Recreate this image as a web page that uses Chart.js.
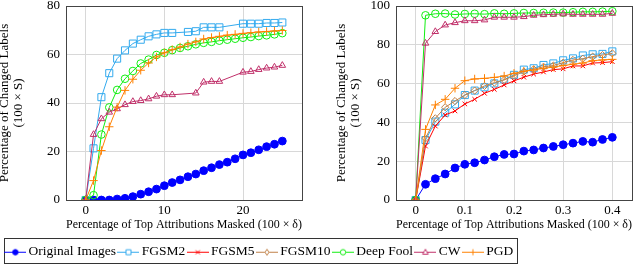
<!DOCTYPE html>
<html><head><meta charset="utf-8">
<script src="https://cdn.jsdelivr.net/npm/chart.js@4/dist/chart.umd.min.js"></script>
<style>
html,body{margin:0;padding:0;background:#fff;width:640px;height:265px;overflow:hidden;position:relative}
canvas{position:absolute}
#legendBox{position:absolute;left:4px;top:238px;width:512px;height:24px;border:1px solid #333;}
</style></head><body>
<div id="legendBox"></div>
<canvas id="left" width="318" height="236" style="left:0;top:0"></canvas>
<canvas id="right" width="320" height="236" style="left:320px;top:0"></canvas>
<canvas id="legend" width="560" height="80" style="left:-19px;top:238px"></canvas>
<script>
// ---------- data ----------
const seriesNames = ['Original Images','FGSM2','FGSM5','FGSM10','Deep Fool','CW','PGD'];

const leftX = [0,1,2,3,4,5,6,7,8,9,10,11,12,13,14,15,16,17,18,19,20,21,22,23,24,25];
const leftOriginal = [0,0,0,0,0.4,0.7,1.4,2.4,3.4,4.5,5.9,7.2,8.3,9.6,10.7,12.1,13.3,14.6,15.6,17.0,18.6,19.5,20.7,22.0,23.0,24.3];
const leftFGSM2 = [0,21.3,42.4,52.3,58.3,61.7,64.5,66.1,67.5,68.3,68.9,68.9,null,69.3,69.6,71.2,71.2,71.2,null,null,72.7,72.7,72.7,73.0,73.0,73.2];
const leftDeepFool = [0,2,27,38.2,45.4,50,53.2,56.3,57.9,59.8,60.7,61.8,62.7,63.4,64.2,64.8,65.2,65.7,66.1,66.5,66.9,67.2,67.6,67.9,68.3,68.8];
const leftCW = [0,27,33.5,36.2,37.6,39.3,40.6,41,41.7,42.8,43.4,43.4,null,null,44.1,48.6,48.9,48.9,null,null,52.7,53,53.8,54.4,54.8,55.5];
const leftPGD = [0,8,20.4,30.2,38.3,45.2,49.8,53.5,56.5,59,60.7,62,63.1,64.3,65.2,66.4,67,67.5,68,68.3,68.7,69,69.3,69.5,69.7,69.9];
const leftTicksX = [0,10,20];
const leftTicksY = [0,20,40,60,80];

const rightX = [0,0.02,0.04,0.06,0.08,0.10,0.12,0.14,0.16,0.18,0.20,0.22,0.24,0.26,0.28,0.30,0.32,0.34,0.36,0.38,0.40];
const rightOriginal = [0,8.1,11,13.4,16.5,18.4,19.2,20.6,22.3,23.5,23.7,25.2,25.8,26.8,27.6,28.5,29.3,30.2,29.8,31.2,32.3];
const rightFGSM2 = [0,30.9,40.4,45,49.3,54.1,56.4,58.1,60.1,62.1,64.5,67.2,67.9,69.6,70.4,72,73,74.5,75.1,75.3,76.6];
const rightFGSM5 = [0,27.8,38.1,43.8,45.9,49.5,51.9,55,57,59.3,61.4,63.3,64.9,66,67.2,67.6,69.1,69.1,70.6,70.8,71.3];
const rightFGSM10 = [0,31.8,42.1,47.8,51,54.1,56.4,58.8,60.5,61.9,64,66.2,67.4,68.7,69.3,70.8,72.2,72.8,73.9,74.7,75.6];
const rightDeepFool = [0,95.2,96,96.1,95.6,95.9,96,95.8,96.2,96,96.2,96.4,96.4,96.5,96.6,96.6,96.8,97,97,97.1,97.3];
const rightCW = [0,80.8,86.8,90.2,91.4,92.4,92.4,92.8,94.2,94.2,94.2,94.5,95.2,95.5,95.7,95.9,95.7,95.7,95.7,95.7,96.2];
const rightPGD = [0,36.4,49,51.9,57.6,61.5,62.4,62.7,63.2,63.9,65.3,66.4,67,67.9,68.5,69.3,70,70.6,71.8,72.2,72.5];
const rightTicksX = [0,0.1,0.2,0.3,0.4];
const rightTicksY = [0,20,40,60,80,100];

// ---------- styles ----------
const FONT = "'Liberation Serif', 'Times New Roman', serif";
const styles = {
  'Original Images': {color:'#0000ff', point:'circle', r:3.9, fill:'#0000ff'},
  'FGSM2':           {color:'#33aaee', point:'rect', r:5, fill:'rgba(255,255,255,0)'},
  'FGSM5':           {color:'#ff0000', point:'crossRot', r:3.2, fill:'rgba(255,255,255,0)'},
  'FGSM10':          {color:'#c08048', point:'rectRot', r:3.6, fill:'rgba(255,255,255,0)'},
  'Deep Fool':       {color:'#11ee11', point:'circle', r:3.8, fill:'rgba(255,255,255,0)'},
  'CW':              {color:'#c0306a', point:'triangle', r:3.8, fill:'rgba(255,255,255,0)'},
  'PGD':             {color:'#ff8000', point:'cross', r:4.2, fill:'rgba(255,255,255,0)'}
};

function makeDataset(name, xs, ys, idx) {
  const s = styles[name];
  return {
    label: name,
    data: xs.map((x, i) => ({x: x, y: ys[i]})),
    borderColor: s.color,
    backgroundColor: s.fill,
    pointBorderColor: s.color,
    pointBackgroundColor: s.fill,
    pointStyle: s.point,
    pointRadius: s.r,
    pointBorderWidth: 1,
    borderWidth: 1,
    tension: 0,
    spanGaps: true,
    order: 10 - idx
  };
}

const boxPlugin = {
  id: 'plotBox',
  afterDraw(chart) {
    const a = chart.chartArea, ctx = chart.ctx;
    ctx.save();
    ctx.strokeStyle = '#444';
    ctx.lineWidth = 1;
    ctx.strokeRect(Math.round(a.left) + 0.5, Math.round(a.top) + 0.5,
                   Math.round(a.right - a.left), Math.round(a.bottom - a.top));
    ctx.restore();
  }
};

function makeOptions(cfg) {
  return {
    responsive: false,
    animation: false,
    layout: {padding: {top: 6, right: cfg.padRight, left: 0, bottom: 0}},
    plugins: {legend: {display: false}, tooltip: {enabled: false}},
    scales: {
      x: {
        type: 'linear', min: cfg.xmin, max: cfg.xmax,
        afterBuildTicks: s => { s.ticks = cfg.ticksX.map(v => ({value: v})); },
        afterFit: s => { s.height = 36; s.paddingLeft = 0; s.paddingRight = 0; },
        grid: {color: '#d8d8d8', lineWidth: 1, drawTicks: false},
        border: {display: false},
        ticks: {color: '#000', padding: 3, font: {family: FONT, size: 13}, maxRotation: 0,
                callback: v => String(v)},
        title: {display: true, text: 'Percentage of Top Attributions Masked (100 × δ)',
                color: '#000', font: {family: FONT, size: 13, lineHeight: '14px'},
                padding: {top: 0, bottom: 4}}
      },
      y: {
        type: 'linear', min: cfg.ymin, max: cfg.ymax,
        afterBuildTicks: s => { s.ticks = cfg.ticksY.map(v => ({value: v})); },
        afterFit: s => { s.width = cfg.yWidth; s.paddingTop = 0; s.paddingBottom = 0; },
        grid: {color: '#d8d8d8', lineWidth: 1, drawTicks: false},
        border: {display: false},
        ticks: {color: '#000', padding: 6, font: {family: FONT, size: 13}},
        title: {display: true, text: ['Percentage of Changed Labels', '(100 × S)'],
                color: '#000', font: {family: FONT, size: 13, lineHeight: '14px'},
                padding: {top: cfg.titlePad, bottom: 0}}
      }
    }
  };
}

new Chart(document.getElementById('left'), {
  type: 'line',
  data: {datasets: [
    makeDataset('Original Images', leftX, leftOriginal, 0),
    makeDataset('FGSM2', leftX, leftFGSM2, 1),
    makeDataset('Deep Fool', leftX, leftDeepFool, 4),
    makeDataset('CW', leftX, leftCW, 5),
    makeDataset('PGD', leftX, leftPGD, 6)
  ]},
  options: makeOptions({xmin: -2.5, xmax: 27.5, ymin: 0, ymax: 80, ticksX: leftTicksX, ticksY: leftTicksY,
                        padRight: 16, yWidth: 66, titlePad: -2}),
  plugins: [boxPlugin]
});

new Chart(document.getElementById('right'), {
  type: 'line',
  data: {datasets: [
    makeDataset('Original Images', rightX, rightOriginal, 0),
    makeDataset('FGSM2', rightX, rightFGSM2, 1),
    makeDataset('FGSM5', rightX, rightFGSM5, 2),
    makeDataset('FGSM10', rightX, rightFGSM10, 3),
    makeDataset('Deep Fool', rightX, rightDeepFool, 4),
    makeDataset('CW', rightX, rightCW, 5),
    makeDataset('PGD', rightX, rightPGD, 6)
  ]},
  options: makeOptions({xmin: -0.04, xmax: 0.44, ymin: 0, ymax: 100, ticksX: rightTicksX, ticksY: rightTicksY,
                        padRight: 8, yWidth: 76, titlePad: 15}),
  plugins: [boxPlugin]
});

// ---------- legend ----------
function markerImage(name) {
  const s = styles[name];
  const c = document.createElement('canvas');
  c.width = 22; c.height = 10;
  const g = c.getContext('2d');
  g.strokeStyle = s.color; g.lineWidth = 1;
  g.beginPath(); g.moveTo(0, 5.5); g.lineTo(22, 5.5); g.stroke();
  const cx = 11, cy = 5.5, r = 2.7;
  g.fillStyle = name === 'Original Images' ? s.color : '#fff';
  g.beginPath();
  switch (s.point) {
    case 'circle': g.arc(cx, cy, r, 0, Math.PI * 2); g.fill(); g.stroke(); break;
    case 'rect': g.rect(cx - 2.5, cy - 2.5, 5, 5); g.fill(); g.stroke(); break;
    case 'rectRot': g.moveTo(cx, cy - 3); g.lineTo(cx + 2, cy); g.lineTo(cx, cy + 3); g.lineTo(cx - 2, cy); g.closePath(); g.fill(); g.stroke(); break;
    case 'triangle': g.moveTo(cx, cy - 3); g.lineTo(cx + 2.8, cy + 2); g.lineTo(cx - 2.8, cy + 2); g.closePath(); g.fill(); g.stroke(); break;
    case 'crossRot': g.moveTo(cx - 2, cy - 2); g.lineTo(cx + 2, cy + 2); g.moveTo(cx + 2, cy - 2); g.lineTo(cx - 2, cy + 2); g.stroke(); break;
    case 'cross': g.moveTo(cx - 3, cy); g.lineTo(cx + 3, cy); g.moveTo(cx, cy - 3); g.lineTo(cx, cy + 3); g.stroke(); break;
  }
  return c;
}

new Chart(document.getElementById('legend'), {
  type: 'line',
  data: {datasets: seriesNames.map((n, i) => ({label: n, data: [], borderColor: styles[n].color}))},
  options: {
    responsive: false, animation: false,
    layout: {padding: {top: 1}},
    scales: {x: {display: false}, y: {display: false}},
    plugins: {
      tooltip: {enabled: false},
      legend: {
        display: true, position: 'top', align: 'center',
        labels: {
          color: '#000', font: {family: FONT, size: 13.5},
          usePointStyle: true, pointStyleWidth: 13, padding: 6,
          generateLabels: chart => chart.data.datasets.map((d, i) => ({
            text: d.label, pointStyle: markerImage(d.label), fillStyle: d.borderColor,
            strokeStyle: d.borderColor, lineWidth: 0, hidden: false, datasetIndex: i
          }))
        }
      }
    }
  }
});
</script>
</body></html>
